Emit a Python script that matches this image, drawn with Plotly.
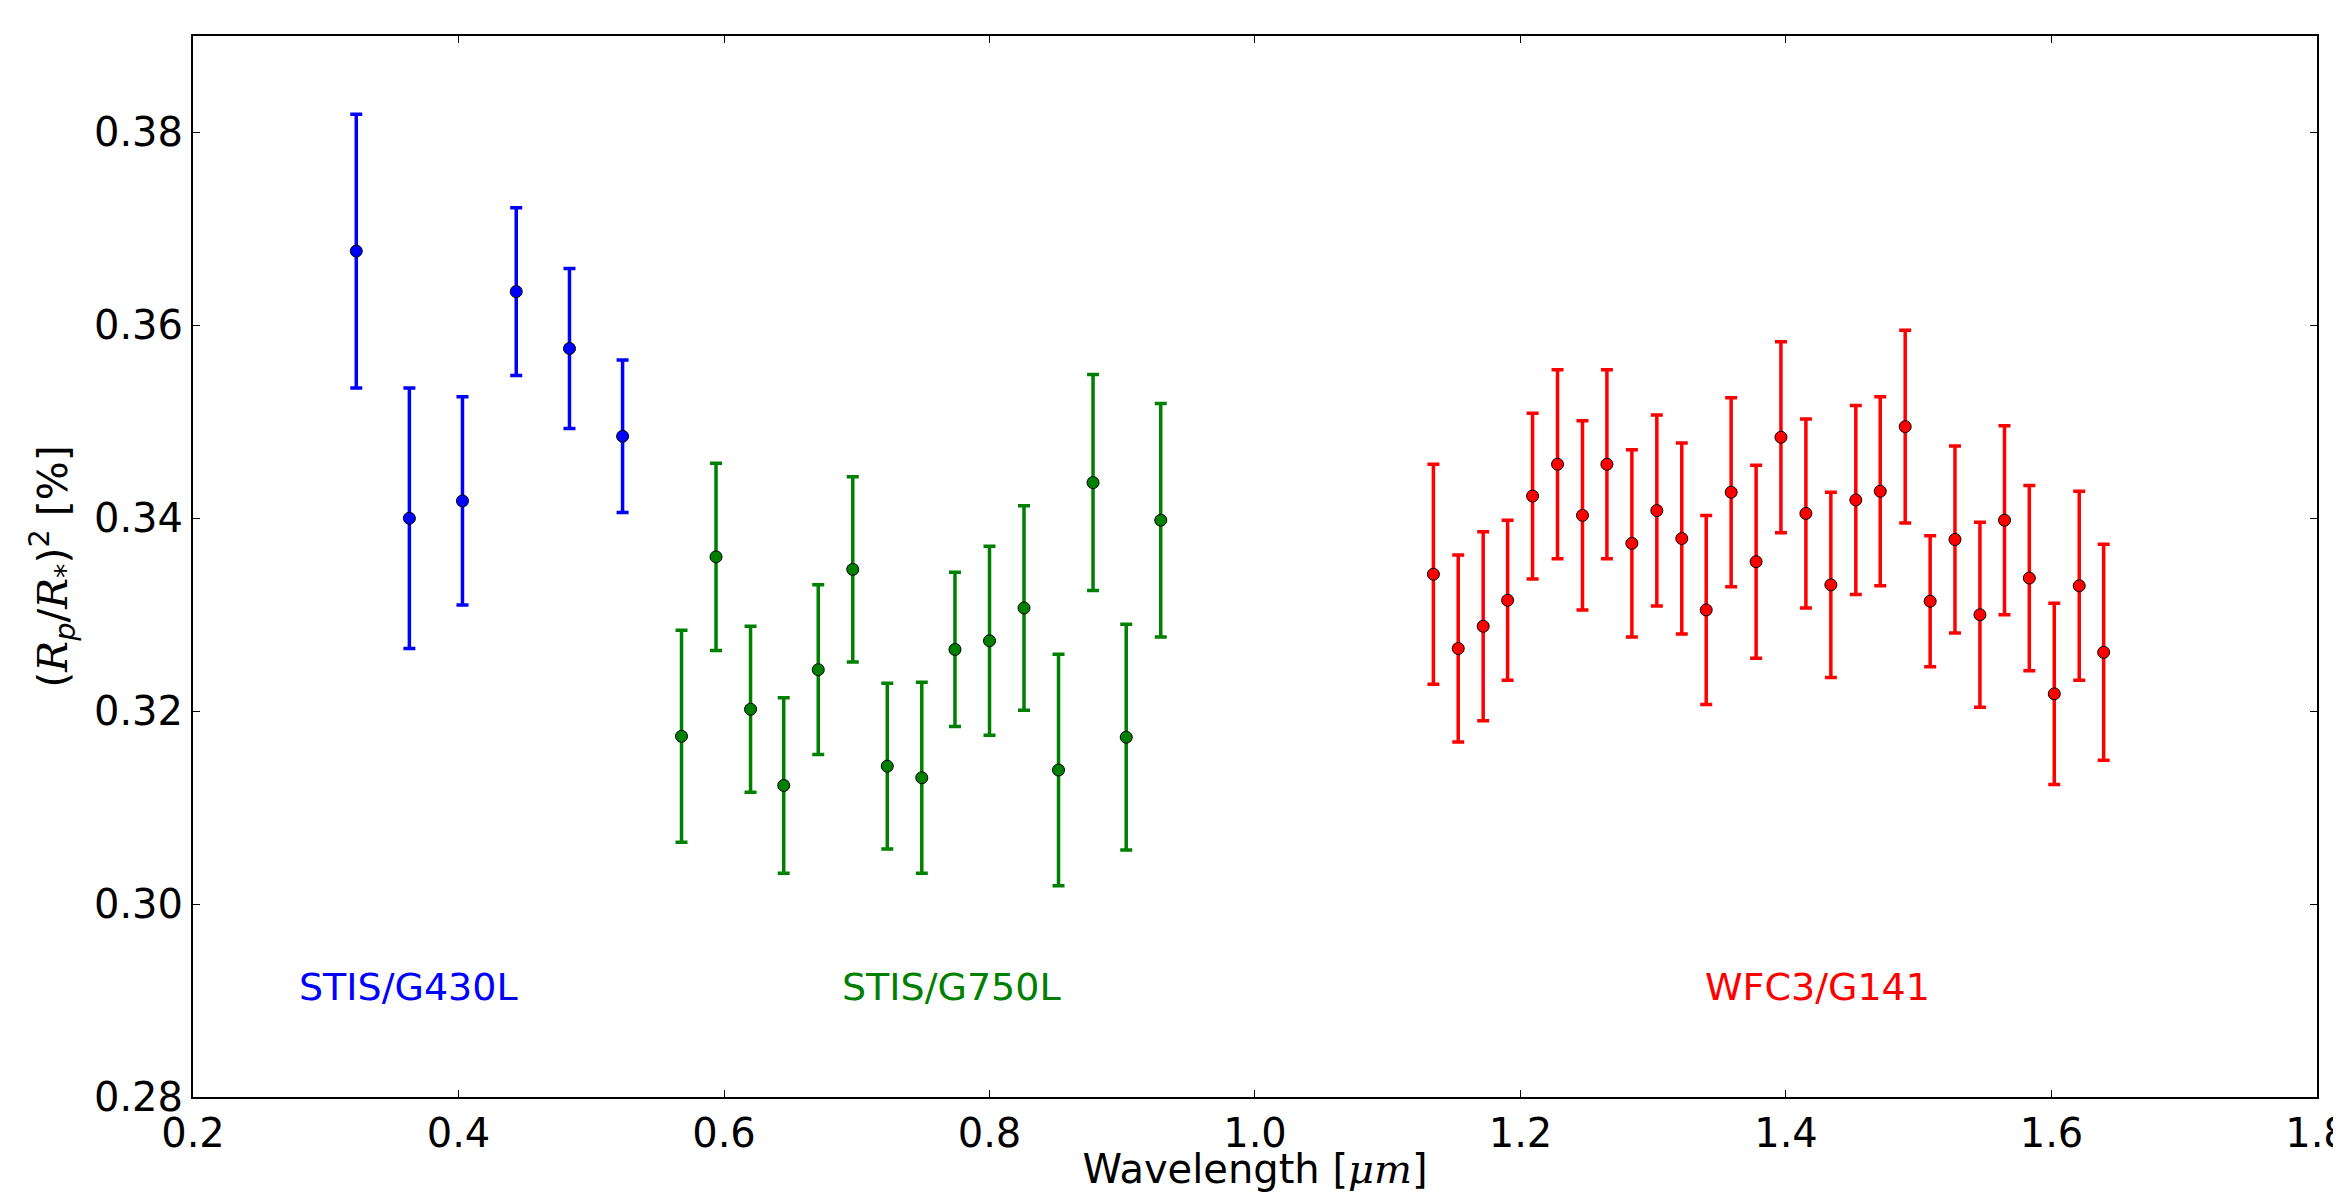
import plotly.graph_objects as go

# ---- data ----
g430_wl = [0.323, 0.363, 0.403, 0.4435, 0.4836, 0.5236]
g430_depth = [0.3677, 0.3400, 0.3418, 0.3635, 0.3576, 0.3485]
g430_err = [0.0142, 0.0135, 0.0108, 0.0087, 0.0083, 0.0079]

g750_wl = [0.568, 0.594, 0.620, 0.645, 0.671, 0.697, 0.723, 0.749, 0.774, 0.800,
           0.826, 0.852, 0.878, 0.903, 0.929]
g750_depth = [0.3174, 0.3360, 0.3202, 0.3123, 0.3243, 0.3347, 0.3143, 0.3131, 0.3264, 0.3273,
              0.3307, 0.3139, 0.3437, 0.3173, 0.3398]
g750_err = [0.0110, 0.0097, 0.0086, 0.0091, 0.0088, 0.0096, 0.0086, 0.0099, 0.0080, 0.0098,
            0.0106, 0.0120, 0.0112, 0.0117, 0.0121]

g141_wl = [1.1344, 1.1531, 1.1719, 1.1903, 1.2091, 1.2279, 1.2467, 1.2651, 1.2839, 1.3027,
           1.3215, 1.3399, 1.3587, 1.3775, 1.3962, 1.4150, 1.4338, 1.4526, 1.4710, 1.4898,
           1.5086, 1.5273, 1.5461, 1.5646, 1.5833, 1.6021, 1.6209, 1.6393]
g141_depth = [0.3342, 0.3265, 0.3288, 0.3315, 0.3423, 0.3456, 0.3403, 0.3456, 0.3374, 0.3408,
              0.3379, 0.3305, 0.3427, 0.3355, 0.3484, 0.3405, 0.3331, 0.3419, 0.3428, 0.3495,
              0.3314, 0.3378, 0.3300, 0.3398, 0.3338, 0.3218, 0.3330, 0.3261]
g141_err = [0.0114, 0.0097, 0.0098, 0.0083, 0.0086, 0.0098, 0.0098, 0.0098, 0.0097, 0.0099,
            0.0099, 0.0098, 0.0098, 0.0100, 0.0099, 0.0098, 0.0096, 0.0098, 0.0098, 0.0100,
            0.0068, 0.0097, 0.0096, 0.0098, 0.0096, 0.0094, 0.0098, 0.0112]

instrument_names = ["STIS/G430L", "STIS/G750L", "WFC3/G141"]
label_wl = [0.3627, 0.771, 1.4234]
label_depth = [0.2914, 0.2914, 0.2914]

x_ticks = [0.2, 0.4, 0.6, 0.8, 1.0, 1.2, 1.4, 1.6, 1.8]
y_ticks = [0.28, 0.30, 0.32, 0.34, 0.36, 0.38]

colors = ["#0000ff", "#008000", "#ff0000"]
series = [
    (g430_wl, g430_depth, g430_err),
    (g750_wl, g750_depth, g750_err),
    (g141_wl, g141_depth, g141_err),
]

fig = go.Figure()
for (wl, d, e), c, name in zip(series, colors, instrument_names):
    fig.add_trace(go.Scatter(
        x=wl, y=d, mode="markers", name=name,
        marker=dict(color=c, size=12, line=dict(color="black", width=1)),
        error_y=dict(type="data", array=e, symmetric=True, color=c,
                     thickness=3.5, width=6),
        showlegend=False,
    ))

for name, xv, yv, c in zip(instrument_names, label_wl, label_depth, colors):
    fig.add_annotation(x=xv, y=yv, xref="x", yref="y", text=name, showarrow=False,
                       font=dict(family="DejaVu Sans", size=38, color=c),
                       xanchor="center", yanchor="middle")

serif = "font-family:'DejaVu Serif'"
ytitle = (f"(<span style=\"{serif}\"><i>R</i></span><sub><i>p</i></sub>/"
          f"<span style=\"{serif}\"><i>R</i></span><sub>*</sub>)<sup>2</sup> [%]")
xtitle = f"Wavelength [<span style=\"{serif}\"><i>μm</i></span>]"

axis_common = dict(
    showgrid=False, zeroline=False, showline=True, linecolor="black", linewidth=2,
    mirror="ticks", ticks="inside", ticklen=7, tickwidth=1, tickcolor="black",
    tickfont=dict(family="DejaVu Sans", size=40, color="black"),
    ticklabeloverflow="allow",
)

fig.update_xaxes(range=[0.2, 1.80001], tickvals=x_ticks, tickformat=".1f",
                 title=dict(text=xtitle, font=dict(family="DejaVu Sans", size=40, color="black"),
                            standoff=6),
                 **axis_common)
fig.update_yaxes(range=[0.28, 0.39], tickvals=y_ticks, tickformat=".2f",
                 title=dict(text=ytitle, font=dict(family="DejaVu Sans", size=41, color="black"),
                            standoff=14),
                 **axis_common)

# page body has an 8px default margin; size the figure to fill the rest of the window
fig.update_layout(
    width=2333, height=1184,
    margin=dict(l=185, r=24, t=28, b=95, autoexpand=False),
    plot_bgcolor="white", paper_bgcolor="white",
    font=dict(family="DejaVu Sans", color="black"),
)

fig.write_html("out.html")
